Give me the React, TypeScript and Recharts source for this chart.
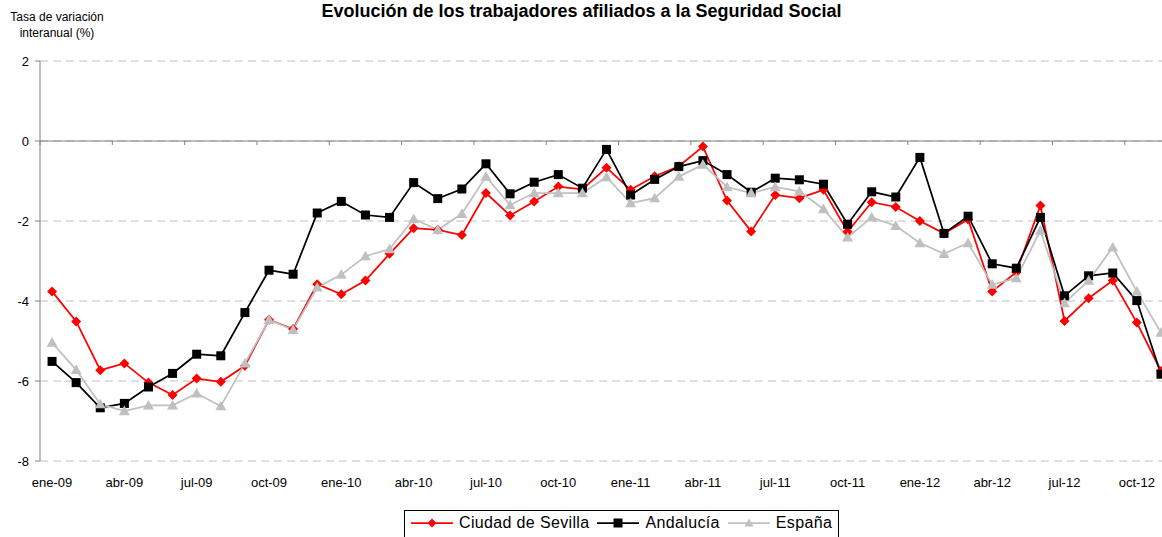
import {
  CartesianGrid,
  Legend,
  Line,
  LineChart,
  ReferenceLine,
  XAxis,
  YAxis,
} from "recharts";

const months = [
  "ene-09", "feb-09", "mar-09", "abr-09", "may-09", "jun-09", "jul-09", "ago-09", "sep-09", "oct-09", "nov-09", "dic-09",
  "ene-10", "feb-10", "mar-10", "abr-10", "may-10", "jun-10", "jul-10", "ago-10", "sep-10", "oct-10", "nov-10", "dic-10",
  "ene-11", "feb-11", "mar-11", "abr-11", "may-11", "jun-11", "jul-11", "ago-11", "sep-11", "oct-11", "nov-11", "dic-11",
  "ene-12", "feb-12", "mar-12", "abr-12", "may-12", "jun-12", "jul-12", "ago-12", "sep-12", "oct-12", "nov-12",
];

const sevilla = [
  -3.76, -4.51, -5.73, -5.56, -6.04, -6.35, -5.94, -6.02, -5.62, -4.47,
  -4.7, -3.58, -3.83, -3.49, -2.82, -2.18, -2.22, -2.35, -1.3, -1.86,
  -1.51, -1.14, -1.21, -0.67, -1.22, -0.88, -0.63, -0.14, -1.49, -2.26,
  -1.35, -1.43, -1.22, -2.27, -1.53, -1.65, -2.0, -2.31, -1.96, -3.76,
  -3.28, -1.61, -4.5, -3.93, -3.49, -4.54, -5.75,
];

const andalucia = [
  -5.51, -6.04, -6.67, -6.56, -6.15, -5.81, -5.33, -5.37, -4.29, -3.23,
  -3.33, -1.8, -1.51, -1.85, -1.91, -1.04, -1.44, -1.2, -0.57, -1.32,
  -1.03, -0.84, -1.18, -0.21, -1.35, -0.96, -0.64, -0.49, -0.84, -1.28,
  -0.93, -0.97, -1.08, -2.08, -1.27, -1.4, -0.41, -2.31, -1.88, -3.07,
  -3.18, -1.91, -3.87, -3.37, -3.3, -3.99, -5.83,
];

const espana = [
  -5.04, -5.72, -6.58, -6.75, -6.61, -6.61, -6.31, -6.63, -5.56, -4.47,
  -4.72, -3.66, -3.34, -2.88, -2.7, -1.95, -2.22, -1.82, -0.89, -1.6,
  -1.3, -1.3, -1.3, -0.9, -1.55, -1.43, -0.89, -0.59, -1.15, -1.3,
  -1.15, -1.26, -1.7, -2.41, -1.91, -2.12, -2.55, -2.82, -2.55, -3.59,
  -3.43, -2.24, -4.05, -3.49, -2.66, -3.76, -4.79,
];

const yTicks = [-8, -6, -4, -2, 0, 2];

const data = months.map((month, i) => ({
  month,
  sevilla: sevilla[i],
  andalucia: andalucia[i],
  espana: espana[i],
}));

// excel puts the category ticks between months, every third one
const tickMonths = months.filter((_, i) => i % 3 === 0);

const FONT = '"Liberation Sans", Arial, sans-serif';
const RED = "#FF0000";
const BLACK = "#000000";
const GRAY = "#C0C0C0";

function Diamond({ cx, cy, r = 5, fill = RED }: any) {
  if (cx == null || cy == null) return null;
  return (
    <polygon
      points={`${cx},${cy - r} ${cx + r},${cy} ${cx},${cy + r} ${cx - r},${cy}`}
      fill={fill}
    />
  );
}

function Square({ cx, cy, r = 4.5, fill = BLACK }: any) {
  if (cx == null || cy == null) return null;
  return <rect x={cx - r} y={cy - r} width={r * 2} height={r * 2} fill={fill} />;
}

function Triangle({ cx, cy, r = 5.5, fill = GRAY }: any) {
  if (cx == null || cy == null) return null;
  return (
    <polygon
      points={`${cx},${cy - r} ${cx + r},${cy + r * 0.75} ${cx - r},${cy + r * 0.75}`}
      fill={fill}
    />
  );
}

const legendItems = [
  { name: "Ciudad de Sevilla", color: RED, Marker: Diamond },
  { name: "Andalucía", color: BLACK, Marker: Square },
  { name: "España", color: GRAY, Marker: Triangle },
];

function ExcelLegend() {
  return (
    <div
      style={{
        display: "flex",
        alignItems: "center",
        border: "1px solid #000",
        background: "#fff",
        padding: "3px 6px 8px 6px",
        fontFamily: FONT,
        fontSize: 16,
        letterSpacing: 0.35,
        color: "#000",
        whiteSpace: "nowrap",
      }}
    >
      {legendItems.map(({ name, color, Marker }, i) => (
        <div key={name} style={{ display: "flex", alignItems: "center", marginLeft: i ? 8 : 0 }}>
          <svg width={42} height={12}>
            <line x1={0} y1={6} x2={42} y2={6} stroke={color} strokeWidth={1.75} />
            <Marker cx={21} cy={6} r={4.5} fill={color} />
          </svg>
          <span style={{ marginLeft: 6 }}>{name}</span>
        </div>
      ))}
    </div>
  );
}

export default function App() {
  return (
    <div
      style={{
        position: "relative",
        width: 1162,
        height: 537,
        overflow: "hidden",
        background: "#fff",
        fontFamily: FONT,
      }}
    >
      <style>{"body{margin:0}"}</style>
      <div
        style={{
          position: "absolute",
          left: 0,
          top: 1,
          width: 1163,
          textAlign: "center",
          fontSize: 18,
          fontWeight: "bold",
          lineHeight: "20px",
        }}
      >
        Evolución de los trabajadores afiliados a la Seguridad Social
      </div>
      <div
        style={{
          position: "absolute",
          left: 0,
          top: 9,
          width: 114,
          textAlign: "center",
          fontSize: 12,
          lineHeight: "16px",
        }}
      >
        Tasa de variación
        <br />
        interanual (%)
      </div>
      <LineChart
        width={1173}
        height={491}
        data={data}
        margin={{ top: 61, right: 0, bottom: 0, left: 0 }}
      >
        <CartesianGrid
          vertical={false}
          stroke={GRAY}
          strokeDasharray="8 5"
        />
        <XAxis
          dataKey="month"
          scale="band"
          interval={2}
          axisLine={false}
          tickLine={false}
          tickSize={0}
          tickMargin={17}
          height={30}
          tick={{ fill: "#000", fontSize: 13, fontFamily: FONT }}
        />
        <YAxis
          domain={[-8, 2]}
          ticks={yTicks}
          width={40}
          tickSize={5}
          tickMargin={6}
          axisLine={{ stroke: "#808080" }}
          tickLine={{ stroke: "#808080" }}
          tick={{ fill: "#000", fontSize: 13, fontFamily: FONT }}
        />
        <ReferenceLine y={0} stroke="#808080" />
        {tickMonths.map((m) => (
          <ReferenceLine
            key={m}
            position="start"
            segment={[
              { x: m, y: 0 },
              { x: m, y: -0.1 },
            ]}
            stroke="#808080"
          />
        ))}
        <Line
          dataKey="sevilla"
          name="Ciudad de Sevilla"
          stroke={RED}
          strokeWidth={1.75}
          dot={(p: any) => <Diamond key={p.index} cx={p.cx} cy={p.cy} />}
          activeDot={false}
          isAnimationActive={false}
        />
        <Line
          dataKey="andalucia"
          name="Andalucía"
          stroke={BLACK}
          strokeWidth={1.75}
          dot={(p: any) => <Square key={p.index} cx={p.cx} cy={p.cy} />}
          activeDot={false}
          isAnimationActive={false}
        />
        <Line
          dataKey="espana"
          name="España"
          stroke={GRAY}
          strokeWidth={1.75}
          dot={(p: any) => <Triangle key={p.index} cx={p.cx} cy={p.cy} />}
          activeDot={false}
          isAnimationActive={false}
        />
        <Legend
          layout="vertical"
          align="center"
          verticalAlign="middle"
          wrapperStyle={{ position: "absolute", left: 404, top: 510, width: "auto", height: "auto" }}
          content={() => <ExcelLegend />}
        />
      </LineChart>
    </div>
  );
}
